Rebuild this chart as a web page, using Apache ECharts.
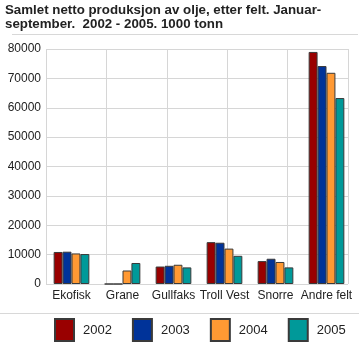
<!DOCTYPE html>
<html><head><meta charset="utf-8">
<script src="https://cdn.jsdelivr.net/npm/echarts@6/dist/echarts.min.js"></script>
<style>html,body{margin:0;padding:0;background:#fff}#c{width:359px;height:344px}</style>
</head><body><div id="c"></div>
<script>
const categories = ['Ekofisk', 'Grane', 'Gullfaks', 'Troll Vest', 'Snorre', 'Andre felt'];
const years = ['2002', '2003', '2004', '2005'];
const v2002 = [10900, 0, 5950, 14250, 7800, 79000];
const v2003 = [11000, 0, 6200, 14050, 8600, 74200];
const v2004 = [10400, 4600, 6550, 12050, 7500, 71900];
const v2005 = [10200, 7150, 5650, 9600, 5650, 63300];
const yTicks = [0, 10000, 20000, 30000, 40000, 50000, 60000, 70000, 80000];
const colors = ['#990000', '#003399', '#ff9933', '#009999'];
const values = [v2002, v2003, v2004, v2005];

const FONT = 'Liberation Sans';
const chart = echarts.init(document.getElementById('c'), null, {renderer: 'canvas'});
chart.setOption({
  animation: false,
  title: {
    text: 'Samlet netto produksjon av olje, etter felt. Januar-\nseptember.  2002 - 2005. 1000 tonn',
    left: 0, top: 0, padding: [3, 5],
    textStyle: {fontFamily: FONT, fontSize: 13.3, fontWeight: 'bold', color: '#222', lineHeight: 14.5}
  },
  graphic: [
    {type: 'line', shape: {x1: 12, y1: 34.5, x2: 358, y2: 34.5}, style: {stroke: '#d8d8d8', lineWidth: 1}},
    {type: 'line', shape: {x1: 0, y1: 313.5, x2: 359, y2: 313.5}, style: {stroke: '#d8d8d8', lineWidth: 1}}
  ],
  legend: {
    data: years, left: 54, top: 318, padding: 0, itemWidth: 19, itemHeight: 22, itemGap: 20,
    icon: 'rect',
    textStyle: {fontFamily: FONT, fontSize: 13, color: '#222', padding: [10, 0, 0, 4]}
  },
  grid: [
    {left: 46, right: 7, top: 49, bottom: 60},
    {left: 46, right: 11, top: 49, bottom: 60}
  ],
  xAxis: [
    {type: 'category', gridIndex: 0, data: categories,
     axisLine: {show: false}, axisTick: {show: false}, splitLine: {show: false},
     axisLabel: {fontFamily: FONT, fontSize: 12, color: '#222', margin: 6, interval: 0}},
    {type: 'value', gridIndex: 1, min: 0, max: 5, interval: 1,
     axisLine: {show: false}, axisTick: {show: false}, axisLabel: {show: false},
     splitLine: {show: true, lineStyle: {color: '#d6d6d6', width: 1}}}
  ],
  yAxis: [
    {type: 'value', gridIndex: 0, min: 0, max: 80000, interval: 10000, show: false, splitLine: {show: false}},
    {type: 'value', gridIndex: 1, min: 0, max: 80000, interval: 10000,
     axisLine: {show: false}, axisTick: {show: false},
     axisLabel: {fontFamily: FONT, fontSize: 12, color: '#222', margin: 5,
       formatter: v => yTicks.includes(v) ? String(v) : ''},
     splitLine: {show: true, lineStyle: {color: '#d6d6d6', width: 1}}}
  ],
  series: years.map((y, i) => ({
    name: y, type: 'bar', xAxisIndex: 0, yAxisIndex: 0,
    data: values[i], barGap: '0%', barCategoryGap: '30%',
    itemStyle: {color: colors[i], borderColor: '#3a3a3a', borderWidth: 1}
  }))
});
</script></body></html>
